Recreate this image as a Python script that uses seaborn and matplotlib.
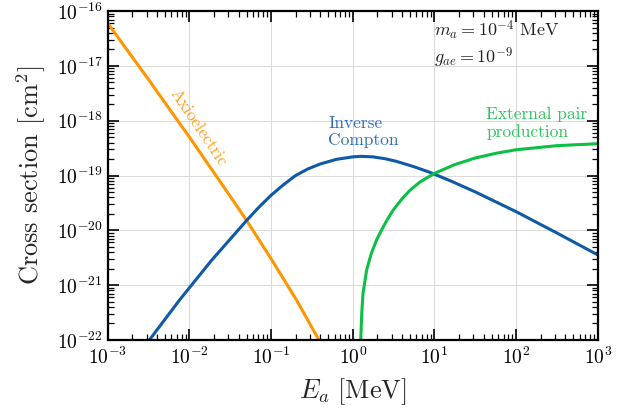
import numpy as np
import pandas as pd
import matplotlib
matplotlib.use("Agg")
import matplotlib.pyplot as plt
import seaborn as sns
from matplotlib.ticker import LogLocator, NullFormatter

# curvas (E en MeV, seccion eficaz en cm^2), en log10
logE_axio = [-3.0, -2.5, -2.0, -1.5, -1.3, -1.0, -0.69, -0.415]
logs_axio = [-16.22, -17.25, -18.30, -19.38, -19.82, -20.52, -21.27, -22.0]

logE_comp = [-2.55, -2.12, -1.73, -1.5, -1.3, -1.15, -1.0, -0.85, -0.7, -0.55, -0.4,
             -0.2, 0.0, 0.1, 0.25, 0.4, 0.53, 0.75, 0.94, 1.2, 1.5, 2.0, 2.5, 3.0]
logs_comp = [-22.12, -21.27, -20.55, -20.16, -19.82, -19.58, -19.36, -19.17, -19.0,
             -18.88, -18.79, -18.705, -18.66, -18.65, -18.66, -18.695, -18.74, -18.84,
             -18.94, -19.10, -19.30, -19.66, -20.05, -20.45]

logE_pair = [0.097, 0.11, 0.125, 0.17, 0.227, 0.29, 0.35, 0.42, 0.49, 0.6, 0.7, 0.82,
             1.0, 1.25, 1.5, 1.75, 2.0, 2.5, 3.0]
logs_pair = [-22.0, -21.5, -21.15, -20.72, -20.42, -20.18, -20.0, -19.81, -19.64, -19.43,
             -19.27, -19.12, -18.96, -18.8, -18.68, -18.595, -18.53, -18.455, -18.42]

sns.set_theme(style="ticks")
plt.rcParams["font.family"] = ["cmr10", "DejaVu Serif"]
plt.rcParams["mathtext.fontset"] = "cm"
plt.rcParams["axes.formatter.use_mathtext"] = True
plt.rcParams["axes.unicode_minus"] = False

c_axio = "#ff9500"
c_comp = "#0f5aa6"
c_pair = "#0dbf45"

curvas = [(logE_axio, logs_axio, c_axio), (logE_comp, logs_comp, c_comp),
          (logE_pair, logs_pair, c_pair)]

fig = plt.figure(figsize=(6.3, 4.12), dpi=100)
ax = fig.add_axes([0.171, 0.175, 0.778, 0.798])

for lx, ly, col in curvas:
    df = pd.DataFrame({"E": 10.0 ** np.array(lx), "s": 10.0 ** np.array(ly)})
    sns.lineplot(data=df, x="E", y="s", color=col, lw=2.2, ax=ax, sort=False)

ax.set_xscale("log")
ax.set_yscale("log")
ax.set_xlim(1e-3, 1e3)
ax.set_ylim(1e-22, 1e-16)
ax.xaxis.set_major_locator(LogLocator(base=10, numticks=20))
ax.yaxis.set_major_locator(LogLocator(base=10, numticks=20))
ax.xaxis.set_minor_locator(LogLocator(base=10, subs=np.arange(2, 10), numticks=50))
ax.yaxis.set_minor_locator(LogLocator(base=10, subs=np.arange(2, 10), numticks=50))
ax.xaxis.set_minor_formatter(NullFormatter())
ax.yaxis.set_minor_formatter(NullFormatter())

ax.grid(True, which="major", color="#d9d9d9", lw=0.7)
ax.tick_params(which="both", direction="in", top=True, right=True, colors="black", labelsize=14)
ax.tick_params(which="major", length=8, width=1.2)
ax.tick_params(which="minor", length=4, width=0.9)
ax.tick_params(axis="x", pad=5)
for sp in ax.spines.values():
    sp.set_linewidth(1.6)
    sp.set_color("black")

ax.set_xlabel(r"$E_a\ [\mathrm{MeV}]$", fontsize=19, labelpad=6)
ax.set_ylabel(r"Cross section [cm$^2$]", fontsize=19, labelpad=6)

ax.text(0.0129, 7.5e-19, "Axioelectric", color="#ffa320", fontsize=12.5,
        rotation=-56, ha="center", va="center", rotation_mode="anchor")
ax.text(0.50, 1.25e-18, "Inverse\nCompton", color="#2f6fb5", fontsize=12.5,
        ha="left", va="top", linespacing=1.15)
ax.text(43, 1.8e-18, "External pair\nproduction", color="#29c65a", fontsize=12.5,
        ha="left", va="top", linespacing=1.15)
ax.text(9.8, 7.5e-17, "$m_a = 10^{-4}\\ \\mathrm{MeV}$\n$g_{ae} = 10^{-9}$", color="#222222",
        fontsize=13, ha="left", va="top", linespacing=1.2)

fig.savefig("out.png", dpi=100)
